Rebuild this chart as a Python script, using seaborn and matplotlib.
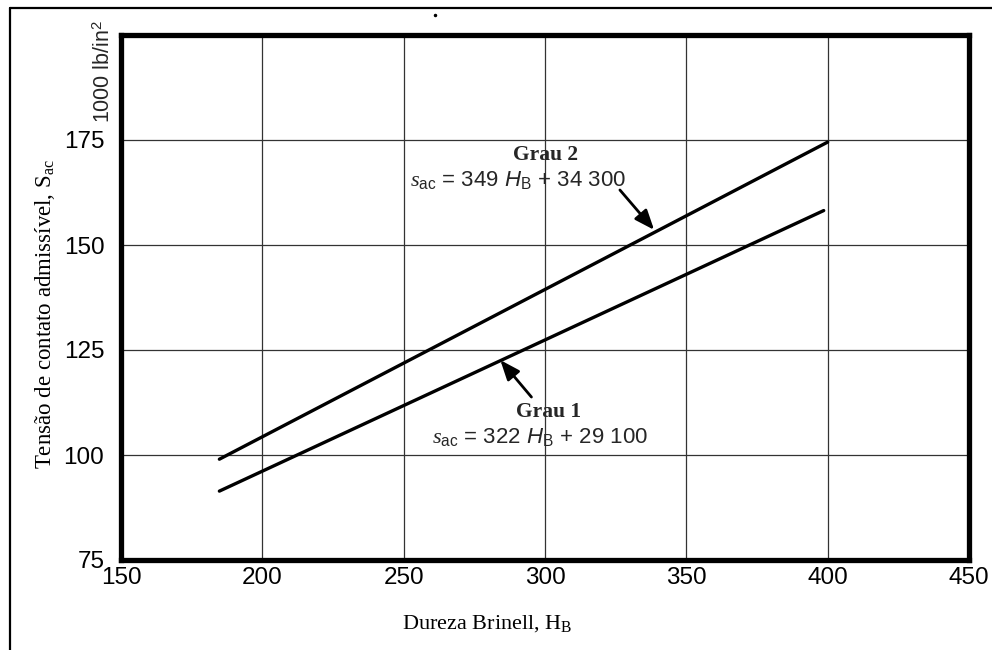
import matplotlib
matplotlib.use("Agg")
import matplotlib.pyplot as plt
from matplotlib.lines import Line2D
import seaborn as sns
import pandas as pd

# ---- data ----
grau = ["Grau 1", "Grau 1", "Grau 2", "Grau 2"]
dureza = [184.8, 398.6, 184.8, 400.0]          # Brinell hardness H_B
tensao = [91.4, 158.2, 99.0, 174.5]            # allowable contact stress, 1000 lb/in^2
x_ticks = [150, 200, 250, 300, 350, 400, 450]
y_ticks = [75, 100, 125, 150, 175]

df = pd.DataFrame({"grau": grau, "HB": dureza, "Sac": tensao})

sns.set_theme(style="white")
plt.rcParams["font.family"] = ["Liberation Sans", "DejaVu Sans"]
plt.rcParams["mathtext.fontset"] = "custom"
plt.rcParams["mathtext.rm"] = "Liberation Sans"
plt.rcParams["mathtext.it"] = "Liberation Serif:italic"
plt.rcParams["mathtext.sf"] = "Liberation Sans:italic"
plt.rcParams["mathtext.bf"] = "Liberation Serif"

fig = plt.figure(figsize=(9.92, 6.50), dpi=100)
ax = fig.add_axes([121 / 992, 1 - 560 / 650, (969 - 121) / 992, (560 - 35) / 650])

sns.lineplot(data=df, x="HB", y="Sac", hue="grau", palette=["black", "black"],
             linewidth=2.4, legend=False, ax=ax, zorder=3,
             solid_capstyle="round")

ax.set_xlim(150, 450)
ax.set_ylim(75, 200)
ax.set_xticks(x_ticks)
ax.set_yticks(y_ticks)
ax.grid(True, color="#333333", linewidth=0.9)
ax.set_axisbelow(True)
ax.tick_params(axis="both", length=0, labelsize=17.5, colors="black")
ax.tick_params(axis="x", pad=5)
ax.tick_params(axis="y", pad=12)
for s in ax.spines.values():
    s.set_linewidth(3.8)
    s.set_color("black")
    s.set_capstyle("projecting")

serif = ["Liberation Serif", "DejaVu Serif"]
ax.set_xlabel(r"Dureza Brinell, H$_{\mathbf{B}}$", family=serif, fontsize=16, color="black")
ax.set_ylabel(r"Tensão de contato admissível, S$_{\mathbf{ac}}$", family=serif, fontsize=16.5, color="black")
ax.xaxis.set_label_coords((487 - 121) / 848, (558 - 621) / 523)
ax.yaxis.set_label_coords((45 - 121) / 848, (558 - 313) / 523)
ax.xaxis.label.set_va("center")
ax.yaxis.label.set_va("center")

# annotations
ax.text(300.2, 171.4, "Grau 2", family=serif, fontweight="bold", fontsize=15.5,
        ha="center", va="center")
ax.text(290.6, 165.5, r"$\mathit{s}_{\mathrm{ac}}$ = 349 $\mathsf{H}_{\mathrm{B}}$ + 34 300",
        fontsize=16, ha="center", va="center")
ax.text(301.3, 110.2, "Grau 1", family=serif, fontweight="bold", fontsize=15.5,
        ha="center", va="center")
ax.text(298.1, 104.3, r"$\mathit{s}_{\mathrm{ac}}$ = 322 $\mathsf{H}_{\mathrm{B}}$ + 29 100",
        fontsize=16, ha="center", va="center")

arrow = dict(arrowstyle="-|>,head_length=1.0,head_width=0.4", color="black",
             lw=2.0, shrinkA=0, shrinkB=0)
ax.annotate("", xy=(338.6, 153.6), xytext=(326.5, 163.1), arrowprops=arrow)
ax.annotate("", xy=(284.2, 122.6), xytext=(295.2, 113.8), arrowprops=arrow)

# unit label
fig.text(104 / 992, 1 - 71 / 650, r"1000 lb/in$^{2}$", rotation=90, fontsize=15.5,
         ha="center", va="center")

# page border (top and left) and stray dot
fig.add_artist(Line2D([10 / 992, 1.0], [1 - 7.5 / 650, 1 - 7.5 / 650],
                      transform=fig.transFigure, color="black", lw=1.6))
fig.add_artist(Line2D([10 / 992, 10 / 992], [0.0, 1 - 7.5 / 650],
                      transform=fig.transFigure, color="black", lw=1.6))
fig.add_artist(Line2D([435 / 992], [1 - 15 / 650], transform=fig.transFigure,
                      marker="o", ms=1.5, color="black", lw=0))

fig.savefig("out.png", dpi=100, facecolor="white")
